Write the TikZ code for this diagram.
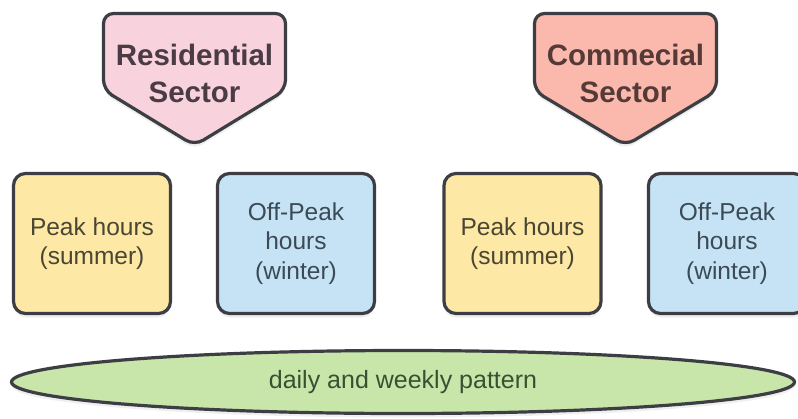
\documentclass[tikz,border=0pt]{standalone}
\usepackage{fontspec}
\setmainfont{Liberation Sans}
\usetikzlibrary{shapes.geometric,shadows}

\definecolor{edgegray}{HTML}{3C3E44}
\definecolor{respink}{HTML}{F8D2DC}
\definecolor{comsalmon}{HTML}{FBB9AD}
\definecolor{peakyellow}{HTML}{FDE8A6}
\definecolor{offblue}{HTML}{C6E3F6}
\definecolor{patgreen}{HTML}{C8E6AA}
\definecolor{restext}{HTML}{4A3B45}
\definecolor{comtext}{HTML}{553A38}
\definecolor{peaktext}{HTML}{4A4632}
\definecolor{offtext}{HTML}{3C4A56}
\definecolor{pattext}{HTML}{3A5032}

\begin{document}
\begin{tikzpicture}[x=1pt, y=-1pt,
        softshadow/.style={drop shadow={opacity=0.12, shadow xshift=0pt, shadow yshift=-4pt}},
        sectorshape/.style={draw=edgegray, line width=3.2pt, rounded corners=10pt, softshadow},
        sectortext/.style={align=center, inner sep=0pt, font=\fontsize{29.5}{37}\selectfont\bfseries},
        hourbox/.style={draw=edgegray, line width=3.2pt, rounded corners=12pt, softshadow,
            minimum width=157pt, minimum height=140pt, inner sep=0pt, align=center,
            font=\fontsize{24.5}{29.5}\selectfont},
        patternband/.style={ellipse, draw=edgegray, line width=3.2pt, fill=patgreen, softshadow,
            minimum width=783pt, minimum height=63pt, inner sep=0pt,
            font=\fontsize{25}{30}\selectfont, text=pattext}]
    \useasboundingbox (0,0) rectangle (798,418);
    \fill[white] (0,0) rectangle (798,418);
    \clip (0,0) rectangle (798,418);

    % sector headers
    \path[sectorshape, fill=respink] (103.5,13.5) -- (285.5,13.5) -- (285.5,90) -- (194.5,145.5) -- (103.5,90) -- cycle;
    \path[sectorshape, fill=comsalmon] (534.5,13.5) -- (716.5,13.5) -- (716.5,91) -- (625.5,145.5) -- (534.5,91) -- cycle;
    \node[sectortext, text=restext] (res) at (194.5,73) {Residential\\Sector};
    \node[sectortext, text=comtext] (com) at (625.5,73) {Commecial\\Sector};

    % peak / off-peak boxes
    \node[hourbox, fill=peakyellow, text=peaktext] (respeak) at (92,243.5) {Peak hours\\(summer)};
    \node[hourbox, fill=offblue, text=offtext] (resoff) at (296,243.5) {Off-Peak\\hours\\(winter)};
    \node[hourbox, fill=peakyellow, text=peaktext] (compeak) at (522.5,243.5) {Peak hours\\(summer)};
    \node[hourbox, fill=offblue, text=offtext] (comoff) at (727,243.5) {Off-Peak\\hours\\(winter)};

    % common pattern
    \node[patternband] (pattern) at (403,382) {daily and weekly pattern};
\end{tikzpicture}
\end{document}
